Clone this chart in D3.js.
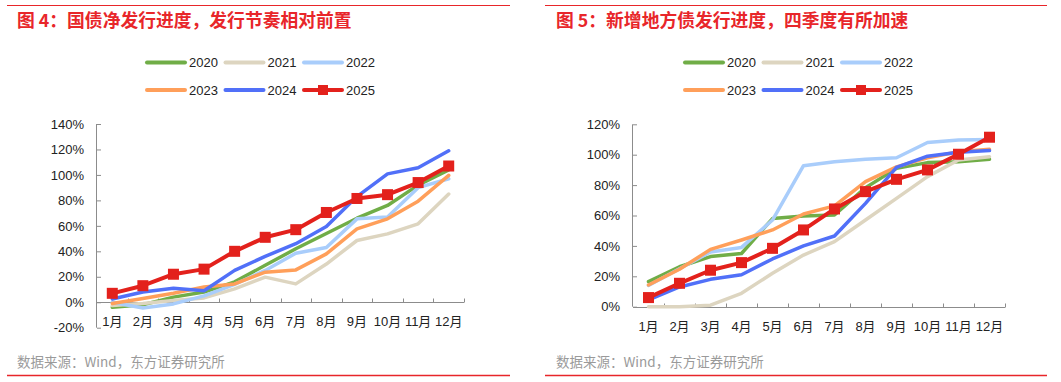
<!DOCTYPE html>
<html>
<head>
<meta charset="utf-8">
<script src="https://cdn.jsdelivr.net/npm/d3@7"></script>
<style>
  body { margin: 0; background: #fff; }
  svg text { font-family: "Liberation Sans", Arial, "Noto Sans CJK SC", sans-serif; }
</style>
</head>
<body>
<div id="chart"></div>
<script>
const width = 1061;
const height = 382;

const months = ["1月", "2月", "3月", "4月", "5月", "6月", "7月", "8月", "9月", "10月", "11月", "12月"];
const years = ["2020", "2021", "2022", "2023", "2024", "2025"];
const colors = ["#70ad47", "#ddd5c0", "#a9cdfb", "#ff9f5a", "#5170f8", "#e3211c"];

// 图4 国债净发行进度 (%)
const gz2020 = [-4, -2, 4, 8, 16, 29, 42, 54, 66, 76, 92, 104];
const gz2021 = [-2.6, -1, 1.3, 3.4, 10.5, 19.7, 14.4, 30, 48.5, 53.7, 61.6, 85];
const gz2022 = [0, -4.5, -1.3, 5, 14, 25, 38.5, 43, 65.5, 67, 90, 97];
const gz2023 = [-1, 3, 7, 12, 14.4, 23.6, 25.4, 38, 57.6, 65.5, 79.4, 99.6];
const gz2024 = [2.6, 8, 11, 9, 25, 36, 46, 59.5, 83, 100.8, 105.6, 119];
const gz2025 = [7, 13, 22, 26, 40, 51, 57, 70.5, 81.5, 84.5, 94, 107];

// 图5 新增地方债发行进度 (%)
const df2020 = [16.5, 26.3, 33, 35, 58, 59.7, 60.3, 78.3, 91, 94.8, 95.4, 97];
const df2021 = [0, 0, 1, 8.8, 22, 34, 42.8, 57, 71.3, 85.6, 96.5, 98.7];
const df2022 = [14, 25, 36, 39, 57, 92.8, 95.4, 97, 98, 108, 109.7, 110];
const df2023 = [14.3, 24.6, 37.7, 43.9, 50.5, 61, 66.3, 82.3, 92, 98, 102, 103.6];
const df2024 = [4.4, 13, 18, 21, 31.4, 40, 46.5, 68, 91.7, 99, 101.6, 102.7];
const df2025 = [6, 15.4, 24, 29, 38.4, 50.5, 64.3, 75.7, 83.8, 90, 100.3, 111.5];

const leftTicks = [-20, 0, 20, 40, 60, 80, 100, 120, 140];
const rightTicks = [0, 20, 40, 60, 80, 100, 120];

const svg = d3.select("#chart")
    .append("svg")
    .attr("width", width)
    .attr("height", height);

function drawPanel(p) {
    const g = svg.append("g");

    // top rule, title, bottom rule, source
    g.append("line")
        .attr("x1", p.ruleX1).attr("x2", p.ruleX2)
        .attr("y1", 5.5).attr("y2", 5.5)
        .attr("stroke", "#e8262a").attr("stroke-width", 1);
    g.append("text")
        .attr("x", p.titleX).attr("y", 27)
        .attr("fill", "#e8262a")
        .style("font-family", "'Noto Sans CJK SC', sans-serif")
        .style("font-weight", "bold")
        .style("font-size", "17.8px")
        .text(p.title);
    g.append("line")
        .attr("x1", p.ruleX1).attr("x2", p.ruleX2)
        .attr("y1", 375.5).attr("y2", 375.5)
        .attr("stroke", "#e8262a").attr("stroke-width", 1.3);
    g.append("text")
        .attr("x", p.titleX).attr("y", 367)
        .attr("fill", "#9a9a9a")
        .style("font-family", "'Noto Sans CJK SC', sans-serif")
        .style("font-size", "13.5px")
        .text("数据来源：Wind，东方证券研究所");

    const x = d3.scaleBand().domain(months).range([p.x0, p.x1]);
    const y = d3.scaleLinear().domain(p.domain).range([p.yBottom, p.yTop]);

    // y axis
    const yAxis = g.append("g")
        .attr("transform", `translate(${p.x0},0)`)
        .call(d3.axisLeft(y).tickValues(p.ticks).tickSize(-4).tickPadding(13)
            .tickFormat(d => d + "%"));
    yAxis.select(".domain").attr("stroke", "#8c8c8c").attr("d", `M-0.5,${p.yBottom}V${p.yTop}`);
    yAxis.selectAll(".tick line").attr("stroke", "#8c8c8c");
    yAxis.selectAll(".tick text").attr("fill", "#222").style("font-size", "13px");

    // x axis at 0%
    const y0 = Math.round(y(0)) + 0.5;
    g.append("line")
        .attr("x1", p.x0).attr("x2", p.x1)
        .attr("y1", y0).attr("y2", y0)
        .attr("stroke", "#8c8c8c");
    const bounds = months.map(m => x(m)).concat([p.x1]).slice(1);
    g.selectAll(".xt").data(bounds).join("line")
        .attr("x1", d => Math.round(d) + 0.5).attr("x2", d => Math.round(d) + 0.5)
        .attr("y1", y0).attr("y2", y0 - 4)
        .attr("stroke", "#8c8c8c");
    g.selectAll(".xl").data(months).join("text")
        .attr("x", d => x(d) + x.bandwidth() / 2)
        .attr("y", p.labelY)
        .attr("text-anchor", "middle")
        .attr("dominant-baseline", "central")
        .attr("fill", "#222")
        .style("font-size", "13px")
        .text(d => d);

    const line = d3.line()
        .x((d, i) => x(months[i]) + x.bandwidth() / 2)
        .y(d => y(d));

    p.series.forEach((s, k) => {
        g.append("path")
            .datum(s)
            .attr("fill", "none")
            .attr("stroke", colors[k])
            .attr("stroke-width", k === 5 ? 4 : 3.5)
            .attr("stroke-linejoin", "round")
            .attr("stroke-linecap", "round")
            .attr("d", line);
    });
    g.selectAll(".mk").data(p.series[5]).join("rect")
        .attr("x", (d, i) => x(months[i]) + x.bandwidth() / 2 - 5.5)
        .attr("y", d => y(d) - 5.5)
        .attr("width", 11).attr("height", 11)
        .attr("fill", colors[5]);

    // legend
    years.forEach((yr, k) => {
        const lx = p.legendX + (k % 3) * 78.5;
        const ly = k < 3 ? 62.5 : 90;
        g.append("line")
            .attr("x1", lx + 2).attr("x2", lx + 40)
            .attr("y1", ly).attr("y2", ly)
            .attr("stroke", colors[k])
            .attr("stroke-width", 4)
            .attr("stroke-linecap", "round");
        if (k === 5) {
            g.append("rect")
                .attr("x", lx + 21 - 5).attr("y", ly - 5)
                .attr("width", 10).attr("height", 10)
                .attr("fill", colors[k]);
        }
        g.append("text")
            .attr("x", lx + 44).attr("y", ly)
            .attr("dominant-baseline", "central")
            .attr("fill", "#222")
            .style("font-size", "13px")
            .text(yr);
    });
}

drawPanel({
    title: "图 4：国债净发行进度，发行节奏相对前置",
    titleX: 17, ruleX1: 7, ruleX2: 510,
    x0: 97, x1: 464, yTop: 124, yBottom: 327.7, domain: [-20, 140],
    ticks: leftTicks, labelY: 321, legendX: 145,
    series: [gz2020, gz2021, gz2022, gz2023, gz2024, gz2025]
});

drawPanel({
    title: "图 5：新增地方债发行进度，四季度有所加速",
    titleX: 556, ruleX1: 545, ruleX2: 1047,
    x0: 633, x1: 1005, yTop: 124.3, yBottom: 306.7, domain: [0, 120],
    ticks: rightTicks, labelY: 326, legendX: 683,
    series: [df2020, df2021, df2022, df2023, df2024, df2025]
});
</script>
</body>
</html>
